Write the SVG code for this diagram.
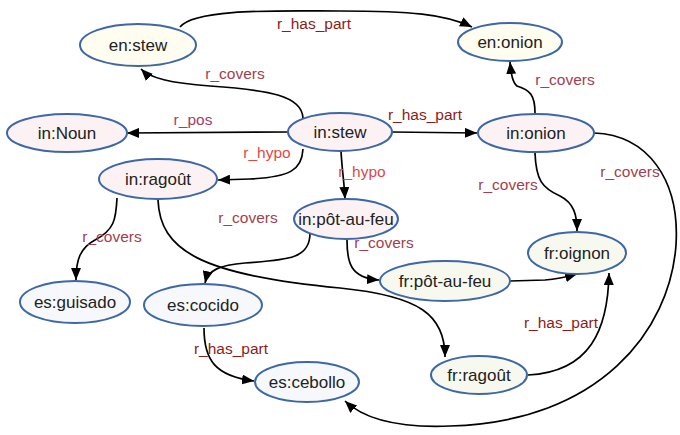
<svg xmlns="http://www.w3.org/2000/svg" width="680" height="435" viewBox="0 0 680 435">
<style>
.n ellipse{stroke:#3d67a6;stroke-width:2}
.n text{font-family:"Liberation Sans",Arial,sans-serif;font-size:17px;fill:#222;text-anchor:middle;dominant-baseline:central}
.en{fill:#fffcf0}
.in{fill:#fcf2f4}
.es{fill:#f6f8fb}
.fr{fill:#f8f9ee}
#edges path{fill:none;stroke:#000;stroke-width:1.7;marker-end:url(#ah)}
#edges text{font-family:"Liberation Sans",Arial,sans-serif;font-size:15.5px;text-anchor:middle}
.cov{fill:#a3404e}
.hp{fill:#8b1c1c}
.hy{fill:#e04848}
.pos{fill:#a0406a}
</style>
<defs>
<marker id="ah" markerWidth="12" markerHeight="10" refX="12" refY="5" orient="auto" markerUnits="userSpaceOnUse">
<path d="M0,0 L12,5 L0,10 Z" fill="#000"/>
</marker>
</defs>
<g id="edges">
<path d="M180,27 C195,8 280,11 340,11 C410,11 445,14 472,27"/>
<text x="314" y="29" class="hp">r_has_part</text>
<path d="M303,118 C302,96 270,90 210,86 C170,83 150,78 141,69"/>
<text x="235" y="79" class="cov">r_covers</text>
<path d="M288,132 L127,133"/>
<text x="193" y="125" class="pos">r_pos</text>
<path d="M303,149 C302,170 290,177 250,179 L218,180"/>
<text x="267" y="158" class="hy">r_hypo</text>
<path d="M392,132 L477,133"/>
<text x="425" y="120" class="hp">r_has_part</text>
<path d="M341,151 C342,170 344,180 345,199"/>
<text x="362" y="177" class="hy">r_hypo</text>
<path d="M535,113 C535,95 530,90 517,86 C512,82 511,72 510,62"/>
<text x="565" y="85" class="cov">r_covers</text>
<path d="M535,153 C536,180 542,188 560,196 C574,203 577,215 577,231"/>
<text x="508" y="190" class="cov">r_covers</text>
<path d="M594,133 C648,135 680,180 676,245 C670,330 600,422 450,426 C400,428 365,420 345,401"/>
<text x="630" y="177" class="cov">r_covers</text>
<path d="M117,198 C116,220 114,230 95,240 C80,248 76,260 76,280"/>
<text x="112" y="242" class="cov">r_covers</text>
<path d="M158,200 C160,250 200,275 340,288 C420,296 445,315 445,357"/>
<text x="248" y="223" class="cov">r_covers</text>
<path d="M310,233 C310,258 290,260 245,263 C220,265 208,270 205,283"/>
<path d="M347,240 C347,262 350,278 379,280"/>
<text x="384" y="248" class="cov">r_covers</text>
<path d="M510,281 L545,280 C560,279 570,276 577,274"/>
<path d="M528,375 C590,372 608,330 609,273"/>
<text x="561" y="328" class="hp">r_has_part</text>
<path d="M204,328 C204,360 215,376 254,381"/>
<text x="231" y="354" class="hp">r_has_part</text>
</g>
<g id="en_stew" class="n"><ellipse class="en" cx="138" cy="45" rx="58" ry="21"/><text x="138" y="45">en:stew</text></g>
<g id="en_onion" class="n"><ellipse class="en" cx="510" cy="42" rx="52" ry="19"/><text x="510" y="42">en:onion</text></g>
<g id="in_Noun" class="n"><ellipse class="in" cx="67" cy="133" rx="60" ry="19"/><text x="67" y="133">in:Noun</text></g>
<g id="in_stew" class="n"><ellipse class="in" cx="340" cy="132" rx="52" ry="19"/><text x="340" y="132">in:stew</text></g>
<g id="in_onion" class="n"><ellipse class="in" cx="536" cy="133" rx="58" ry="19"/><text x="536" y="133">in:onion</text></g>
<g id="in_ragout" class="n"><ellipse class="in" cx="158" cy="179" rx="59" ry="20"/><text x="158" y="179">in:ragoût</text></g>
<g id="in_potaufeu" class="n"><ellipse class="in" cx="346" cy="219" rx="52" ry="20"/><text x="346" y="219">in:pôt-au-feu</text></g>
<g id="fr_oignon" class="n"><ellipse class="fr" cx="577" cy="253" rx="49" ry="21"/><text x="577" y="253">fr:oignon</text></g>
<g id="fr_potaufeu" class="n"><ellipse class="fr" cx="445" cy="281" rx="65" ry="20"/><text x="445" y="281">fr:pôt-au-feu</text></g>
<g id="fr_ragout" class="n"><ellipse class="fr" cx="479" cy="375" rx="48" ry="19"/><text x="479" y="375">fr:ragoût</text></g>
<g id="es_guisado" class="n"><ellipse class="es" cx="75" cy="302" rx="55" ry="21"/><text x="75" y="302">es:guisado</text></g>
<g id="es_cocido" class="n"><ellipse class="es" cx="203" cy="305" rx="59" ry="21"/><text x="203" y="305">es:cocido</text></g>
<g id="es_cebollo" class="n"><ellipse class="es" cx="307" cy="382" rx="52" ry="20"/><text x="307" y="382">es:cebollo</text></g>
</svg>
